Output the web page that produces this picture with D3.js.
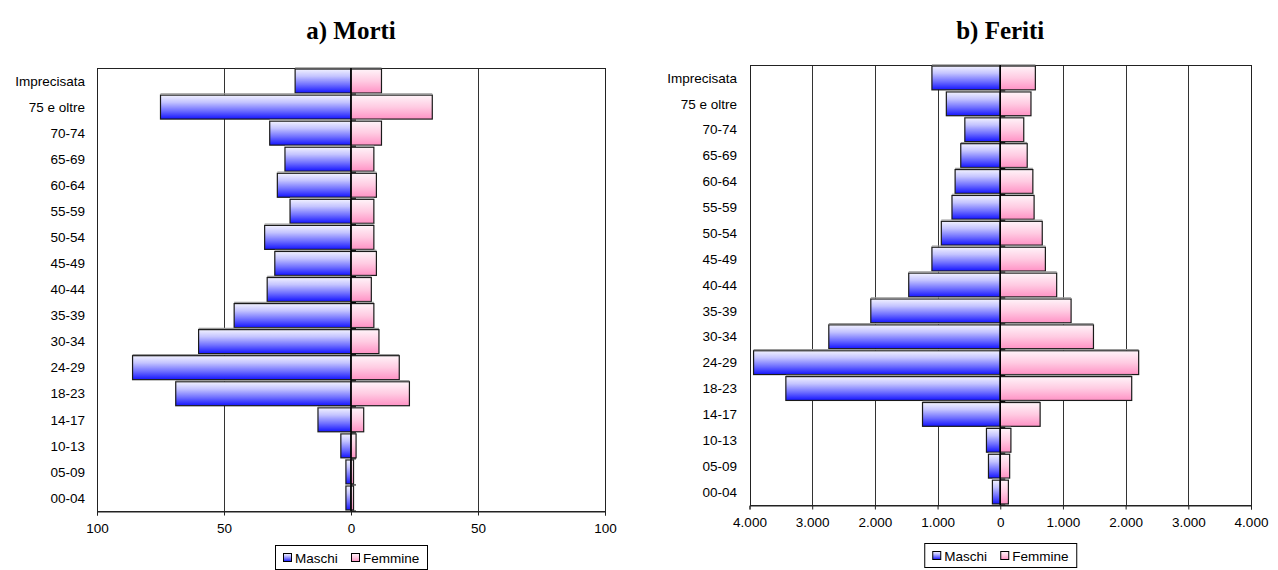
<!DOCTYPE html>
<html>
<head>
<meta charset="utf-8">
<script src="https://cdn.jsdelivr.net/npm/d3@7"></script>
<style>
  html, body { margin: 0; padding: 0; background: #fff; }
  svg { display: block; }
  text { font-family: "Liberation Sans", Arial, sans-serif; fill: #000; }
  .title { font-family: "Liberation Serif", "Times New Roman", serif; font-weight: bold; font-size: 25px; }
</style>
</head>
<body>
<svg id="chart" width="1278" height="570"></svg>
<script>
// Age groups, top to bottom
const categories = ["Imprecisata", "75 e oltre", "70-74", "65-69", "60-64", "55-59", "50-54",
  "45-49", "40-44", "35-39", "30-34", "24-29", "18-23", "14-17", "10-13", "05-09", "00-04"];

// a) Morti
const mortiMaschi  = [22, 75, 32, 26, 29, 24, 34, 30, 33, 46, 60, 86, 69, 13, 4, 2, 2];
const mortiFemmine = [12, 32, 12, 9, 10, 9, 9, 10, 8, 9, 11, 19, 23, 5, 2, 1, 1];
const mortiTicks   = [-100, -50, 0, 50, 100];

// b) Feriti
const feritiMaschi  = [1090, 860, 565, 630, 720, 770, 940, 1090, 1460, 2065, 2735, 3935, 3420, 1240, 220, 188, 125];
const feritiFemmine = [560, 490, 375, 430, 520, 540, 670, 720, 900, 1130, 1487, 2208, 2097, 636, 170, 150, 130];
const feritiTicks   = [-4000, -3000, -2000, -1000, 0, 1000, 2000, 3000, 4000];

const seriesNames = ["Maschi", "Femmine"];

const itLocale = d3.formatLocale({ decimal: ",", thousands: ".", grouping: [3], currency: ["€", ""] });
const fmt = itLocale.format(",d");

const svg = d3.select("#chart");
const defs = svg.append("defs");

// vertical gradients for the two series
function gradient(id, stops) {
  const g = defs.append("linearGradient").attr("id", id)
    .attr("x1", 0).attr("y1", 0).attr("x2", 0).attr("y2", 1);
  stops.forEach(([o, c]) => g.append("stop").attr("offset", o).attr("stop-color", c));
}
gradient("gradM", [[0, "#f2f2ff"], [0.3, "#c4c4ff"], [0.65, "#7070ff"], [1, "#1414ff"]]);
gradient("gradF", [[0, "#fff4f9"], [0.5, "#ffcbe2"], [1, "#ff92c5"]]);

function pyramid(opt) {
  const g = svg.append("g");
  const x = d3.scaleLinear().domain([opt.ticks[0], opt.ticks[opt.ticks.length - 1]]).range([opt.x0, opt.x1]);
  const y = d3.scaleBand().domain(categories).range([opt.y0, opt.y1]).paddingInner(0.08).paddingOuter(0.04);
  const step = y.step();

  // title
  g.append("text").attr("class", "title")
    .attr("x", x(0)).attr("y", 39).attr("text-anchor", "middle").text(opt.title);

  // gridlines
  g.selectAll("line.grid").data(opt.ticks.filter(t => t !== 0 && Math.abs(t) !== opt.ticks[opt.ticks.length - 1]))
    .join("line").attr("class", "grid")
    .attr("x1", d => Math.round(x(d)) + 0.5).attr("x2", d => Math.round(x(d)) + 0.5)
    .attr("y1", opt.y0).attr("y2", opt.y1)
    .attr("stroke", "#333").attr("stroke-width", 1);

  // plot frame
  g.append("rect")
    .attr("x", Math.round(opt.x0) + 0.5).attr("y", Math.round(opt.y0) + 0.5)
    .attr("width", Math.round(opt.x1) - Math.round(opt.x0)).attr("height", Math.round(opt.y1) - Math.round(opt.y0))
    .attr("fill", "none").attr("stroke", "#222").attr("stroke-width", 1);

  const rows = categories.map((c, i) => ({ c, m: opt.male[i], f: opt.female[i] }));

  function bars(key, grad, side) {
    const sel = g.append("g").selectAll("g").data(rows).join("g");
    const bx = d => side < 0 ? x(-d[key]) : x(0);
    const bw = d => side < 0 ? x(0) - x(-d[key]) : x(d[key]) - x(0);
    sel.append("rect")
      .attr("x", d => bx(d)).attr("y", d => y(d.c))
      .attr("width", d => bw(d)).attr("height", y.bandwidth())
      .attr("fill", `url(#${grad})`)
      .attr("stroke", "#1a1a1a").attr("stroke-width", 1.2);
    // soft grey upper edge
    sel.append("line")
      .attr("x1", d => bx(d)).attr("x2", d => bx(d) + bw(d))
      .attr("y1", d => y(d.c) - 1.2).attr("y2", d => y(d.c) - 1.2)
      .attr("stroke", "#9a9a9a").attr("stroke-width", 1.2);
  }
  bars("m", "gradM", -1);
  bars("f", "gradF", 1);

  // central axis with category tick marks
  g.append("line")
    .attr("x1", x(0)).attr("x2", x(0)).attr("y1", opt.y0).attr("y2", opt.y1)
    .attr("stroke", "#000").attr("stroke-width", 1.5);
  g.selectAll("line.ctick").data(d3.range(1, categories.length + 1))
    .join("line").attr("class", "ctick")
    .attr("x1", x(0)).attr("x2", x(0) + 5)
    .attr("y1", i => opt.y0 + i * step).attr("y2", i => opt.y0 + i * step)
    .attr("stroke", "#000").attr("stroke-width", 1);

  // category labels
  g.selectAll("text.cat").data(categories).join("text").attr("class", "cat")
    .attr("x", opt.labelX).attr("y", d => y(d) + y.bandwidth() / 2)
    .attr("dy", "0.35em").attr("text-anchor", "end")
    .style("font-size", "13.5px").text(d => d);

  // bottom value axis
  const axis = d3.axisBottom(x).tickValues(opt.ticks).tickSize(4).tickPadding(8)
    .tickFormat(d => fmt(Math.abs(d)));
  const ax = g.append("g").attr("transform", `translate(0,${Math.round(opt.y1) + 0.5})`).call(axis);
  ax.select(".domain").attr("stroke", "#222");
  ax.selectAll(".tick line").attr("stroke", "#222");
  ax.selectAll(".tick text").style("font-size", "13.5px").style("font-family", "Liberation Sans, Arial, sans-serif").attr("fill", "#000");

  // legend
  const lg = g.append("g").attr("transform", `translate(${x(0) - 76},${opt.legendY})`);
  lg.append("rect").attr("x", 0.5).attr("y", 0.5).attr("width", 152).attr("height", 24)
    .attr("fill", "#fff").attr("stroke", "#000");
  const items = [{ n: seriesNames[0], g: "gradM", x: 8 }, { n: seriesNames[1], g: "gradF", x: 76 }];
  items.forEach(it => {
    lg.append("rect").attr("x", it.x + 0.5).attr("y", 8.5).attr("width", 8).attr("height", 8)
      .attr("fill", `url(#${it.g})`).attr("stroke", "#000");
    lg.append("text").attr("x", it.x + 12).attr("y", 13).attr("dy", "0.35em")
      .style("font-size", "13.5px").text(it.n);
  });
}

pyramid({
  title: "a) Morti", male: mortiMaschi, female: mortiFemmine, ticks: mortiTicks,
  x0: 97, x1: 605, y0: 68, y1: 511, labelX: 85, legendY: 545
});
pyramid({
  title: "b) Feriti", male: feritiMaschi, female: feritiFemmine, ticks: feritiTicks,
  x0: 749.5, x1: 1251, y0: 65, y1: 505, labelX: 737, legendY: 543
});
</script>
</body>
</html>
